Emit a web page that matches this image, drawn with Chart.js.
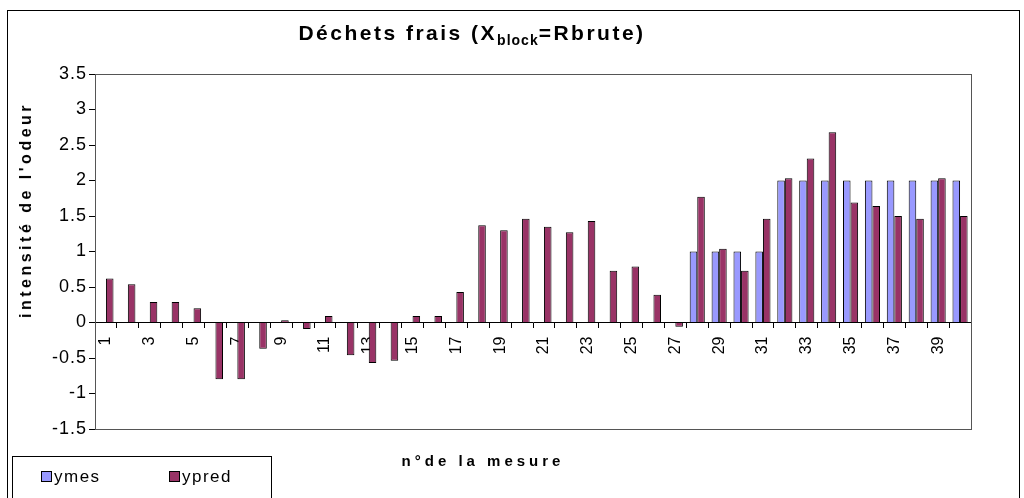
<!DOCTYPE html>
<html>
<head>
<meta charset="utf-8">
<script src="https://cdn.jsdelivr.net/npm/chart.js@4.4.0/dist/chart.umd.min.js"></script>
<style>
  body { margin: 0; background: #fff; font-family: "Liberation Sans", Arial, sans-serif; }
  #wrap { position: relative; width: 1024px; height: 498px; overflow: hidden; }
  #frame { position: absolute; left: 7px; top: 10px; width: 1011px; height: 500px; border: 1px solid #000; }
  #myChart { position: absolute; left: 0; top: 0; }
  #title { position: absolute; left: 0; width: 944px; top: 21px; text-align: center; font-weight: bold; font-size: 21px; letter-spacing: 2.5px; }
  #title sub { font-size: 14px; vertical-align: -5px; line-height: 0; letter-spacing: 1px; }
  #xTitle { position: absolute; left: 0; width: 966px; top: 452px; text-align: center; font-weight: bold; font-size: 15px; letter-spacing: 4px; }
  #yTitle { position: absolute; left: 26px; top: 210px; transform: translate(-50%, -50%) rotate(-90deg); white-space: nowrap; font-weight: bold; font-size: 16px; letter-spacing: 3.5px; }
  #legend { position: absolute; left: 12px; top: 456px; width: 258px; height: 60px; border: 1px solid #000; font-size: 17px; letter-spacing: 1.5px; }
  .item { position: absolute; top: 10px; }
  .box { display: inline-block; width: 9px; height: 9px; border: 1px solid #000; margin-right: 2px; }
</style>
</head>
<body>
<div id="wrap">
  <div id="frame"></div>
  <canvas id="myChart" width="1024" height="498"></canvas>
  <div id="title">Déchets frais (X<sub>block</sub>=Rbrute)</div>
  <div id="xTitle">n°de la mesure</div>
  <div id="yTitle">intensité de l'odeur</div>
  <div id="legend"></div>
</div>
<script>
// numero de la mesure
const mesures = ['1','2','3','4','5','6','7','8','9','10','11','12','13','14','15','16','17','18','19','20',
                 '21','22','23','24','25','26','27','28','29','30','31','32','33','34','35','36','37','38','39','40'];

// valeurs mesurees (rien avant la mesure 28)
const ymes = [null,null,null,null,null,null,null,null,null,null,
              null,null,null,null,null,null,null,null,null,null,
              null,null,null,null,null,null,null,1,1,1,
              1,2,2,2,2,2,2,2,2,2];

// valeurs predites
const ypred = [0.62,0.54,0.29,0.29,0.20,-0.80,-0.80,-0.37,0.03,-0.09,
               0.09,-0.46,-0.57,-0.54,0.09,0.09,0.43,1.37,1.30,1.46,
               1.35,1.27,1.43,0.73,0.79,0.39,-0.06,1.77,1.04,0.73,
               1.46,2.03,2.31,2.68,1.69,1.64,1.50,1.46,2.03,1.50];

const seriesNames = ['ymes', 'ypred'];
const seriesColors = ['#9999FF', '#993366'];

const fontFamily = '"Liberation Sans", Arial, sans-serif';

// cadre de la zone de trace
const plotFrame = {
  id: 'plotFrame',
  afterDraw(chart) {
    const a = chart.chartArea;
    const ctx = chart.ctx;
    ctx.save();
    ctx.strokeStyle = '#555';
    ctx.lineWidth = 1;
    ctx.strokeRect(Math.round(a.left) + 0.5, Math.round(a.top) + 0.5, Math.round(a.right - a.left), Math.round(a.bottom - a.top));
    ctx.restore();
  }
};

var ctx = document.getElementById('myChart').getContext('2d');
const chart = new Chart(ctx, {
  type: 'bar',
  data: {
    labels: mesures,
    datasets: [
      { label: seriesNames[0], data: ymes, backgroundColor: seriesColors[0], borderColor: '#000', borderWidth: 1 },
      { label: seriesNames[1], data: ypred, backgroundColor: seriesColors[1], borderColor: '#000', borderWidth: 1 }
    ]
  },
  options: {
    responsive: false,
    animation: false,
    events: [],
    categoryPercentage: 0.69,
    barPercentage: 1,
    layout: { padding: { top: 74, right: 53, bottom: 69, left: 20 } },
    plugins: {
      legend: { display: false },
      title: { display: false },
      tooltip: { enabled: false }
    },
    scales: {
      x: {
        position: { y: 0 },
        afterFit: s => { s.height = 0; },
        grid: { offset: true, drawOnChartArea: false, drawTicks: true, tickLength: 5, color: '#000' },
        border: { display: true, color: '#000', width: 1 },
        ticks: {
          autoSkip: false,
          minRotation: 90,
          maxRotation: 90,
          padding: 9,
          color: '#000',
          font: { family: fontFamily, size: 16 },
          callback: function (val, index) { return index % 2 === 0 ? this.getLabelForValue(val) : ''; }
        }
      },
      y: {
        min: -1.5,
        max: 3.5,
        afterFit: s => { s.width = 75; },
        grid: { drawOnChartArea: false, drawTicks: true, tickLength: 6, color: '#000' },
        border: { display: true, color: '#000', width: 1 },
        ticks: { stepSize: 0.5, padding: 2, color: '#000', font: { family: fontFamily, size: 18 },
                 callback: v => String(v) }
      }
    }
  },
  plugins: [plotFrame]
});

// les libelles de l'axe y sont un peu plus espaces dans l'original
const yScale = chart.scales.y;
const drawYLabels = yScale.drawLabels.bind(yScale);
yScale.drawLabels = function (area) {
  ctx.letterSpacing = '1px';
  drawYLabels(area);
  ctx.letterSpacing = '0px';
};
chart.draw();

// legende faite a la main, comme dans Excel
const legendPos = [28, 156];
seriesNames.forEach((name, i) => {
  var item = document.createElement('div');
  item.className = 'item';
  item.style.left = legendPos[i] + 'px';
  item.innerHTML = '<span class="box" style="background:' + seriesColors[i] + '"></span>' + name;
  document.getElementById('legend').appendChild(item);
});
</script>
</body>
</html>
